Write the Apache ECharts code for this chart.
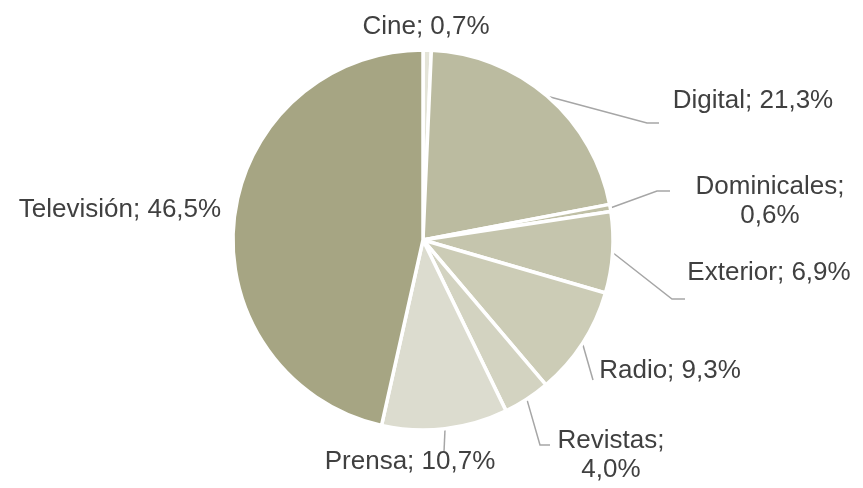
<!DOCTYPE html>
<html>
<head>
<meta charset="utf-8">
<script src="https://cdn.jsdelivr.net/npm/echarts@6/dist/echarts.min.js"></script>
<style>
  html, body { margin: 0; padding: 0; background: #fff; }
  #chart { width: 863px; height: 488px; }
</style>
</head>
<body>
<div id="chart"></div>
<script>
// datos (%)
const categories = ['Cine', 'Digital', 'Dominicales', 'Exterior', 'Radio', 'Revistas', 'Prensa', 'Televisión'];
const values = [0.7, 21.3, 0.6, 6.9, 9.3, 4.0, 10.7, 46.5];
const labelTexts = ['Cine; 0,7%', 'Digital; 21,3%', 'Dominicales;\n0,6%', 'Exterior; 6,9%',
  'Radio; 9,3%', 'Revistas;\n4,0%', 'Prensa; 10,7%', 'Televisión; 46,5%'];
const colors = ['#E4E4D8', '#BBBBA0', '#C0C0A6', '#C5C5AD', '#CCCCB6', '#D3D3C1', '#DCDCCF', '#A6A583'];

// posiciones de etiquetas y quiebres de las líneas guía (estilo Excel)
const labelPos = [[426, 27], [753, 101], [770, 201], [769, 273], [670, 371], [611, 455], [410, 462], [120, 210]];
const linePts = [null, [[647, 123], [659, 123]], [[657, 191], [670, 191]], [[672, 299], [685, 299]],
  [[593, 380], [593, 380]], [[540, 445], [550, 445]], [[444, 452], [444, 452]], null];

const chart = echarts.init(document.getElementById('chart'));

chart.setOption({
  animation: false,
  series: [{
    type: 'pie',
    center: [423, 240],
    radius: [0, 190],
    startAngle: 90,
    clockwise: true,
    avoidLabelOverlap: false,
    itemStyle: { borderColor: '#fff', borderWidth: 3.5 },
    label: {
      show: true,
      position: 'outside',
      color: '#404040',
      fontFamily: 'Liberation Sans',
      fontSize: 26,
      lineHeight: 29,
      align: 'center',
      formatter: p => labelTexts[p.dataIndex]
    },
    labelLine: { show: true, lineStyle: { color: '#A6A6A6', width: 1.5 } },
    labelLayout: function (params) {
      const i = params.dataIndex;
      const out = {
        x: labelPos[i][0], y: labelPos[i][1],
        align: 'center', verticalAlign: 'middle'
      };
      if (linePts[i] && params.labelLinePoints) {
        out.labelLinePoints = [params.labelLinePoints[0]].concat(linePts[i]);
      }
      return out;
    },
    data: categories.map((c, i) => ({
      name: c,
      value: values[i],
      itemStyle: { color: colors[i] },
      labelLine: { show: linePts[i] !== null }
    }))
  }]
});
</script>
</body>
</html>
